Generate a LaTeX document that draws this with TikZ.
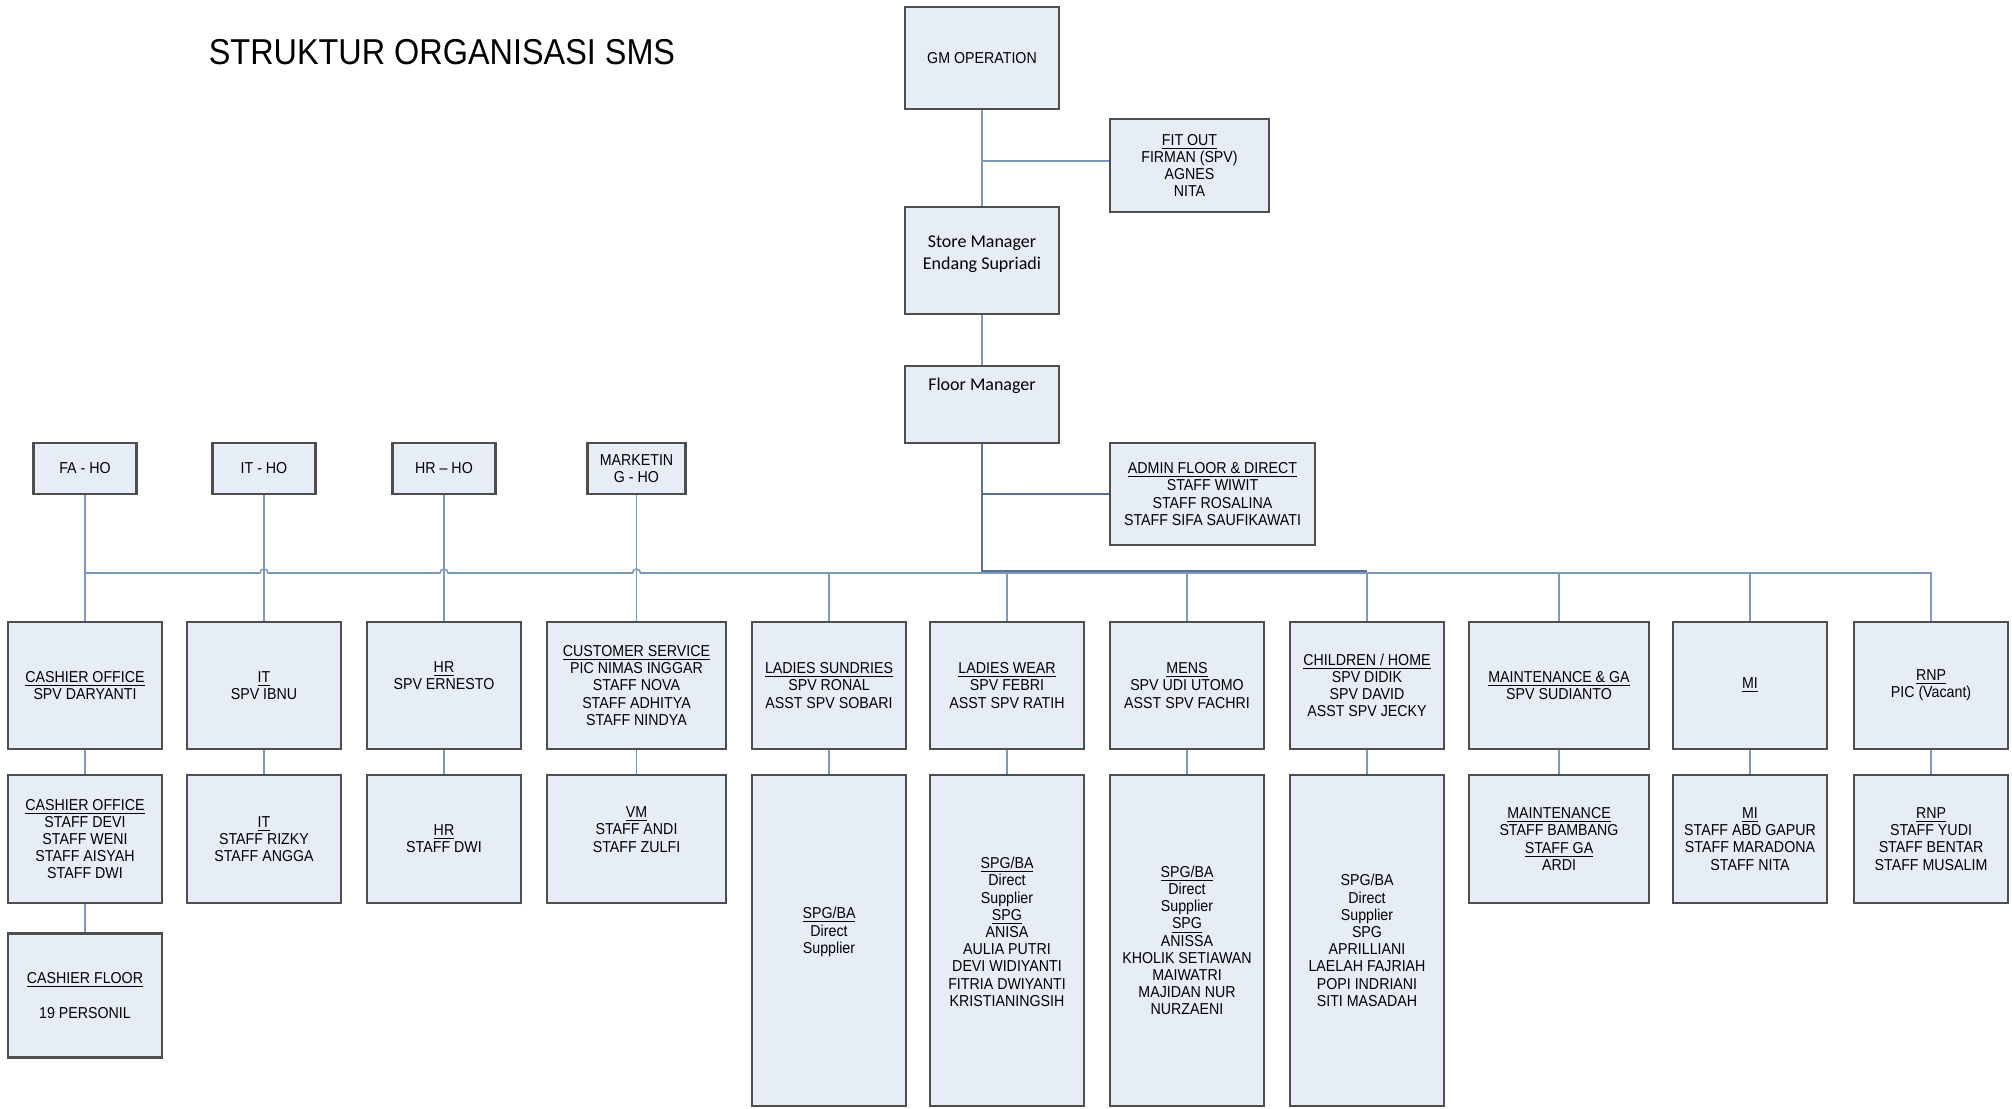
\documentclass[tikz,border=0pt]{standalone}
\usepackage{fontspec}
\newfontfamily\arialn{Liberation Sans}[FakeStretch=0.9]
\newfontfamily\calib{Carlito}
\definecolor{boxfill}{RGB}{231,237,247}
\definecolor{boxline}{RGB}{78,78,78}
\definecolor{conn}{RGB}{125,152,186}
\definecolor{connd}{RGB}{88,114,156}
\newcommand\up[1]{\rule[-#1]{0pt}{#1}}
\tikzset{
  box/.style={draw=boxline, line width=1.1pt, fill=boxfill, inner sep=1pt, align=center,
    font=\arialn\fontsize{7.9}{8.6}\selectfont, shape=rectangle},
  cal/.style={font=\calib\fontsize{9}{11}\selectfont},
  sz/.style 2 args={minimum width=#1*0.5pt, minimum height=#2*0.5pt},
  conline/.style={draw=conn, line width=0.8pt},
  fmline/.style={draw=connd, line width=1.4pt},
}
\begin{document}
\begin{tikzpicture}[x=0.5pt, y=-0.5pt]
\useasboundingbox (0,0) rectangle (2012,1108);
\coordinate (bus) at (0,573);
\coordinate (busT) at (0,571);

\node[font=\arialn\fontsize{18}{21}\selectfont] (title) at (442,52) {STRUKTUR ORGANISASI SMS};

% top chain
\node[box, sz={154}{102}] (gm) at (982,58) {GM OPERATION};
\node[box, sz={159}{93}] (fit) at (1189.5,165.5) {\underline{FIT OUT}\\FIRMAN (SPV)\\AGNES\\NITA};
\node[box, cal, sz={154}{107}] (sm) at (982,260.5) {Store Manager\\Endang Supriadi\up{7.8pt}};
\node[box, cal, sz={154}{77}] (fm) at (982,404.5) {Floor Manager\up{20.4pt}};
\node[box, sz={205}{102}] (adm) at (1212.5,494) {\underline{ADMIN FLOOR \& DIRECT}\\STAFF WIWIT\\STAFF ROSALINA\\STAFF SIFA SAUFIKAWATI};

% head office
\node[box, sz={103}{51}] (faho) at (85,468.5) {FA - HO};
\node[box, sz={103}{51}] (itho) at (264,468.5) {IT - HO};
\node[box, sz={103}{51}] (hrho) at (444,468.5) {HR – HO};
\node[box, sz={98}{51}] (mkho) at (636.5,468.5) {MARKETIN\\G - HO};

% row 1
\node[box, sz={154}{127}] (co1) at (85,685.5) {\underline{CASHIER OFFICE}\\SPV DARYANTI};
\node[box, sz={154}{127}] (it1) at (264,685.5) {\underline{IT}\\SPV IBNU};
\node[box, sz={154}{127}] (hr1) at (444,685.5) {\underline{HR}\\SPV ERNESTO\up{10pt}};
\node[box, sz={179}{127}] (cs1) at (636.5,685.5) {\underline{CUSTOMER SERVICE}\\PIC NIMAS INGGAR\\STAFF NOVA\\STAFF ADHITYA\\STAFF NINDYA};
\node[box, sz={154}{127}] (ls1) at (829,685.5) {\underline{LADIES SUNDRIES}\\SPV RONAL\\ASST SPV SOBARI};
\node[box, sz={154}{127}] (lw1) at (1007,685.5) {\underline{LADIES WEAR}\\SPV FEBRI\\ASST SPV RATIH};
\node[box, sz={154}{127}] (mn1) at (1187,685.5) {\underline{MENS}\\SPV UDI UTOMO\\ASST SPV FACHRI};
\node[box, sz={154}{127}] (ch1) at (1367,685.5) {\underline{CHILDREN / HOME}\\SPV DIDIK\\SPV DAVID\\ASST SPV JECKY};
\node[box, sz={180}{127}] (mg1) at (1559,685.5) {\underline{MAINTENANCE \& GA}\\SPV SUDIANTO};
\node[box, sz={154}{127}] (mi1) at (1750,685.5) {\underline{MI}};
\node[box, sz={154}{127}] (rn1) at (1931,685.5) {\underline{RNP}\\PIC (Vacant)};

% row 2
\node[box, sz={154}{128}] (co2) at (85,839) {\underline{CASHIER OFFICE}\\STAFF DEVI\\STAFF WENI\\STAFF AISYAH\\STAFF DWI};
\node[box, sz={154}{128}] (it2) at (264,839) {\underline{IT}\\STAFF RIZKY\\STAFF ANGGA};
\node[box, sz={154}{128}] (hr2) at (444,839) {\underline{HR}\\STAFF DWI};
\node[box, sz={179}{128}] (vm2) at (636.5,839) {\underline{VM}\\STAFF ANDI\\STAFF ZULFI\up{9.6pt}};
\node[box, sz={154}{331}] (ls2) at (829,940.5) {\underline{SPG/BA}\\Direct\\Supplier\up{10.1pt}};
\node[box, sz={154}{331}] (lw2) at (1007,940.5) {\underline{SPG/BA}\\Direct\\Supplier\\\underline{SPG}\\ANISA\\AULIA PUTRI\\DEVI WIDIYANTI\\FITRIA DWIYANTI\\KRISTIANINGSIH\up{8.7pt}};
\node[box, sz={154}{331}] (mn2) at (1187,940.5) {\underline{SPG/BA}\\Direct\\Supplier\\\underline{SPG}\\ANISSA\\KHOLIK SETIAWAN\\MAIWATRI\\MAJIDAN NUR\\NURZAENI};
\node[box, sz={154}{331}] (ch2) at (1367,940.5) {SPG/BA\\Direct\\Supplier\\SPG\\APRILLIANI\\LAELAH FAJRIAH\\POPI INDRIANI\\SITI MASADAH};
\node[box, sz={180}{128}] (mg2) at (1559,839) {\underline{MAINTENANCE}\\STAFF BAMBANG\\\underline{STAFF GA}\\ARDI};
\node[box, sz={154}{128}] (mi2) at (1750,839) {\underline{MI}\\STAFF ABD GAPUR\\STAFF MARADONA\\STAFF NITA};
\node[box, sz={154}{128}] (rn2) at (1931,839) {\underline{RNP}\\STAFF YUDI\\STAFF BENTAR\\STAFF MUSALIM};

% row 3
\node[box, sz={154}{124}] (cf) at (85,995.5) {\underline{CASHIER FLOOR}\\[8.6pt]19 PERSONIL};

% connectors: top chain
\draw[conline] (gm.south) -- (sm.north);
\draw[conline] ([yshift=2.25pt]fit.west) -| (gm.south);
\draw[conline] (sm.south) -- (fm.north);

% bus with hops
\draw[conline] (faho.south |- bus)
  -- ([xshift=-2pt]itho.south |- bus) arc[start angle=180, end angle=0, radius=2pt]
  -- ([xshift=-2pt]hrho.south |- bus) arc[start angle=180, end angle=0, radius=2pt]
  -- ([xshift=-2pt]mkho.south |- bus) arc[start angle=180, end angle=0, radius=2pt]
  -- (rn1.north |- bus) -- (rn1.north);
\foreach \a/\b in {faho/co1, itho/it1, hrho/hr1, mkho/cs1}
  \draw[conline] (\a.south) -- (\b.north);
\foreach \n in {ls1, lw1, mn1, ch1, mg1, mi1}
  \draw[conline] (\n.north |- bus) -- (\n.north);

% floor manager lines
\draw[fmline] (adm.west) -| (fm.south);
\draw[fmline] (fm.south) |- (ch1.north |- busT);

% row 1 to row 2
\foreach \a/\b in {co1/co2, it1/it2, hr1/hr2, cs1/vm2, ls1/ls2, lw1/lw2, mn1/mn2, ch1/ch2, mg1/mg2, mi1/mi2, rn1/rn2}
  \draw[conline] (\a.south) -- (\b.north);
\draw[conline] (co2.south) -- (cf.north);
\end{tikzpicture}
\end{document}
